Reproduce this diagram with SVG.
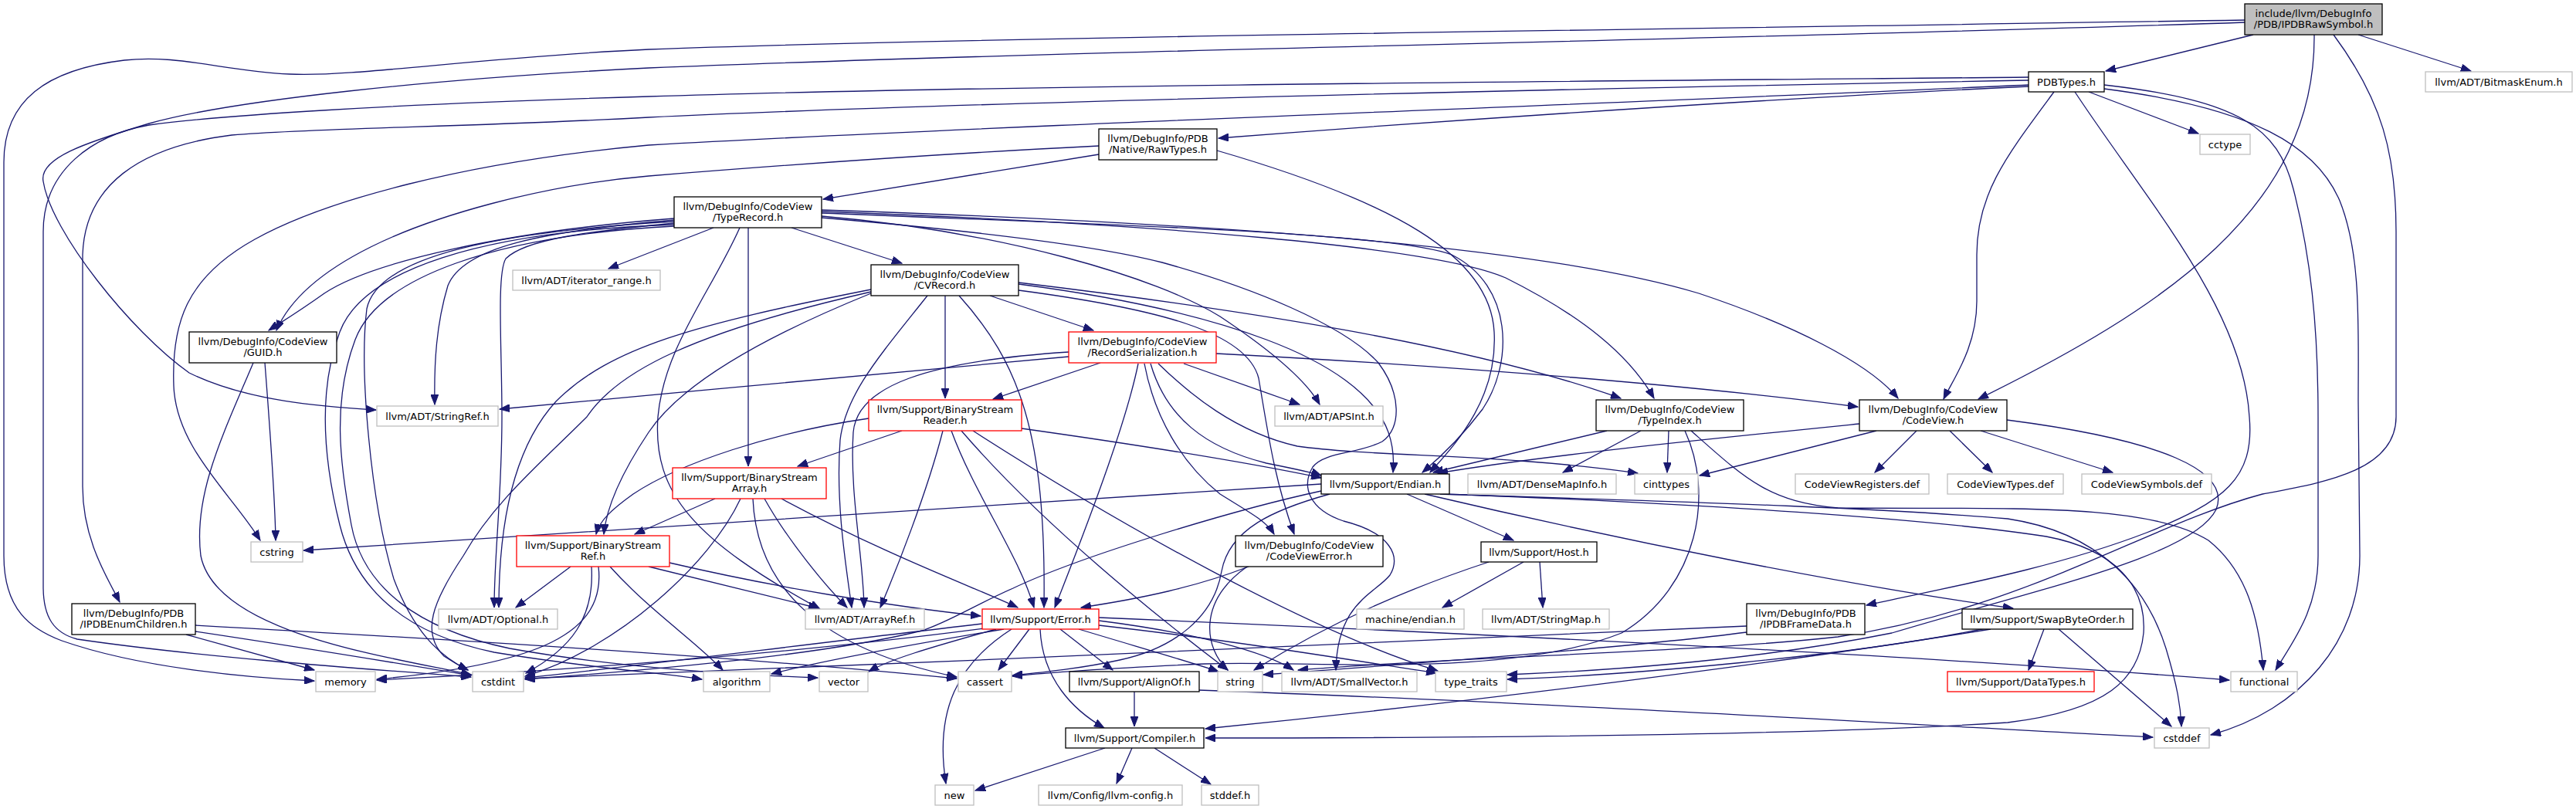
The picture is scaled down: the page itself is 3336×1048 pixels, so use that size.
<svg xmlns="http://www.w3.org/2000/svg" width="3336" height="1048" viewBox="0 0 3336 1048">
<style>
.n rect{fill:#fff;stroke:#000;stroke-width:1.3}
.g rect{stroke:#bfbfbf}
.r rect{stroke:#ff0000}
.root rect{fill:#bfbfbf}
text{font-family:"DejaVu Sans","Liberation Sans",sans-serif;font-size:13px;text-anchor:middle;fill:#000}
#edges path{fill:none;stroke:#191970;stroke-width:1.3;marker-end:url(#a)}
</style>
<defs>
<marker id="a" markerWidth="14" markerHeight="10" refX="13" refY="5" orient="auto" markerUnits="userSpaceOnUse"><path d="M0,0 L13,5 L0,10 z" fill="#191970" stroke="#191970" stroke-width="1"/></marker>
</defs>
<rect width="3336" height="1048" fill="#fff"/>
<g id="edges">
<path d="M2918,45 L2727,92"/>
<path d="M3054,45 L3200,92"/>
<path d="M2997,45 C2999,270 2800,400 2562,517"/>
<path d="M3022,45 C3085,130 3103,200 3103,300 L3103,540 C3103,610 3010,625 2930,640 C2780,680 2620,790 2380,825 C2200,845 1900,850 1681,868"/>
<path d="M2907,29 C2300,50 1400,65 840,88 C560,102 300,130 193,160 C110,185 50,205 56,235 C66,300 170,430 245,483 C320,520 420,527 487,531"/>
<path d="M2907,26 C2000,40 1200,50 840,64 C620,74 460,100 375,96 C290,92 230,70 161,78 C60,90 5,130 5,210 L5,720 C5,790 40,815 80,830 C180,865 320,878 407,882"/>
<path d="M2627,112 C2350,125 1950,150 1578,179"/>
<path d="M2660,119 C2600,200 2560,250 2560,330 L2560,390 C2560,450 2530,490 2517,517"/>
<path d="M2627,104 C2200,112 1300,130 840,152 C600,165 420,165 300,175 C180,190 110,240 107,330 L107,630 C107,700 140,750 155,780"/>
<path d="M2627,110 C2200,130 1300,162 840,188 C600,210 420,260 330,310 C240,360 222,420 225,500 C228,580 300,640 337,700"/>
<path d="M2627,100 C2200,104 1300,110 840,125 C500,135 280,150 193,162 C120,175 56,220 56,300 L56,760 C56,800 70,820 100,828 C250,850 450,865 610,877"/>
<path d="M2687,119 C2780,260 2905,400 2913,540 C2920,620 2880,650 2780,690 C2650,740 2500,765 2417,784"/>
<path d="M2705,119 L2847,173"/>
<path d="M2725,110 C2900,130 2950,165 2970,245 C2992,330 3002,420 3002,540 L3002,720 C3002,790 2970,830 2947,868"/>
<path d="M2725,115 C2920,140 3000,190 3030,260 C3058,330 3054,420 3054,520 L3056,720 C3056,830 2980,920 2863,952"/>
<path d="M1423,200 L1066,258"/>
<path d="M1423,189 C1200,200 1000,215 840,228 C700,240 560,280 480,320 C400,360 370,400 358,428"/>
<path d="M1576,195 C1800,260 1930,330 1935,430 C1940,520 1880,580 1852,612"/>
<path d="M1025,295 L1168,341"/>
<path d="M924,295 L788,348"/>
<path d="M873,283 C650,300 480,340 420,380 C385,405 360,420 348,428"/>
<path d="M873,285 C700,300 600,320 580,370 C565,420 562,470 563,524"/>
<path d="M873,287 C650,300 490,330 475,400 C465,480 480,650 510,750 C540,830 580,855 606,868"/>
<path d="M873,289 C760,300 680,310 655,335 C643,355 650,450 650,540 C650,640 640,720 640,787"/>
<path d="M873,291 C620,300 470,350 440,430 C410,510 420,600 440,680 C460,760 520,820 640,845 C760,865 860,872 909,880"/>
<path d="M873,293 C640,305 490,360 460,440 C430,520 440,600 455,680 C470,760 540,815 660,840 C800,865 950,874 1059,878"/>
<path d="M958,295 C920,380 860,450 852,540 C845,640 900,700 1062,789"/>
<path d="M1064,282 C1250,298 1420,318 1505,340 C1620,372 1740,420 1785,470 C1815,510 1815,555 1790,572 C1760,588 1715,585 1700,605 C1685,630 1695,660 1740,675 C1800,690 1815,720 1800,745 C1780,770 1732,780 1730,868"/>
<path d="M1064,280 C1300,300 1500,360 1580,410 C1640,450 1690,490 1709,524"/>
<path d="M969,295 L969,604"/>
<path d="M1064,276 C1400,290 1800,300 1880,330 C1960,370 1960,470 1920,530 C1890,570 1862,595 1842,612"/>
<path d="M1064,274 C1500,290 1860,320 1950,360 C2050,410 2110,460 2142,516"/>
<path d="M1064,272 C1600,290 2000,320 2200,380 C2320,420 2420,470 2458,516"/>
<path d="M1282,383 L1416,428"/>
<path d="M1224,383 L1224,516"/>
<path d="M1201,383 C1140,460 1095,510 1088,570 C1082,650 1095,730 1103,787"/>
<path d="M1128,375 C900,420 790,450 720,520 C665,580 646,680 646,787"/>
<path d="M1319,366 C1600,400 1900,445 2099,516"/>
<path d="M1319,368 C1450,385 1560,410 1640,440 C1720,470 1780,510 1798,560 C1805,580 1805,600 1804,612"/>
<path d="M1319,376 C1500,400 1615,430 1630,490 C1642,560 1650,620 1676,692"/>
<path d="M1242,383 C1320,470 1355,560 1352,787"/>
<path d="M1128,380 C980,440 880,500 840,560 C800,620 785,660 782,692"/>
<path d="M1128,378 C900,430 800,480 760,540 C700,600 640,650 600,720 C560,780 545,820 575,850 C590,860 600,865 606,868"/>
<path d="M1425,470 L1286,517"/>
<path d="M1384,462 C1100,490 900,505 647,530"/>
<path d="M1384,456 C1200,468 1110,500 1105,560 C1100,640 1118,720 1119,787"/>
<path d="M1533,471 L1683,524"/>
<path d="M1575,458 C1900,475 2200,500 2406,527"/>
<path d="M1482,471 C1495,540 1530,600 1580,640 C1620,665 1640,675 1650,692"/>
<path d="M1490,471 C1510,540 1560,580 1640,600 C1680,608 1700,612 1711,616"/>
<path d="M1474,471 C1460,540 1420,650 1366,787"/>
<path d="M1500,471 C1540,510 1600,560 1680,578 C1780,592 1950,588 2121,613"/>
<path d="M1168,558 L1033,604"/>
<path d="M1125,542 C1000,560 880,600 820,640 C792,660 776,675 772,692"/>
<path d="M1221,558 C1200,640 1160,740 1140,787"/>
<path d="M1232,558 C1262,640 1320,720 1339,787"/>
<path d="M1245,558 C1350,680 1500,800 1590,868"/>
<path d="M1260,558 C1450,680 1700,820 1862,869"/>
<path d="M1323,555 C1500,580 1620,600 1711,619"/>
<path d="M926,646 L822,692"/>
<path d="M959,646 C920,730 800,840 680,876"/>
<path d="M975,646 C980,760 1060,840 1239,877"/>
<path d="M990,646 C1020,700 1070,760 1097,787"/>
<path d="M1012,646 C1150,720 1260,760 1318,787"/>
<path d="M840,734 L1060,788"/>
<path d="M739,734 L668,787"/>
<path d="M867,729 C1000,760 1150,785 1270,798"/>
<path d="M790,734 C840,790 900,830 936,868"/>
<path d="M766,734 C770,800 740,840 681,872"/>
<path d="M775,734 C785,820 700,860 488,880"/>
<path d="M343,470 C350,560 356,640 357,700"/>
<path d="M328,470 C290,560 250,640 260,720 C280,820 500,850 610,874"/>
<path d="M2125,558 L2024,612"/>
<path d="M2081,558 L1856,612"/>
<path d="M2161,558 L2159,612"/>
<path d="M2190,558 C2260,620 2290,650 2380,658 C2600,660 2780,650 2860,700 C2910,740 2925,800 2931,868"/>
<path d="M2182,558 C2220,640 2200,760 2100,820 C1950,880 1700,855 1560,860 C1450,865 1370,870 1311,876"/>
<path d="M2430,558 L2201,616"/>
<path d="M2482,558 L2428,612"/>
<path d="M2525,558 L2580,612"/>
<path d="M2565,558 L2736,612"/>
<path d="M2408,549 C2200,570 2000,590 1862,613"/>
<path d="M2599,544 C2800,570 2890,610 2870,660 C2840,720 2650,760 2450,820 C2250,860 2050,870 1952,874"/>
<path d="M1711,627 C1300,650 800,690 393,713"/>
<path d="M1822,640 L1960,700"/>
<path d="M1845,640 C2100,700 2400,760 2607,788"/>
<path d="M1865,640 C2100,648 2400,655 2600,672 C2720,690 2780,760 2805,840 C2820,890 2824,915 2825,941"/>
<path d="M1870,640 C2200,652 2500,672 2650,695 C2740,712 2780,760 2776,820 C2770,880 2730,920 2600,936 C2300,955 1800,956 1561,956"/>
<path d="M1711,636 C1600,660 1400,720 1312,762 C1260,785 1230,805 1194,817 C1100,840 950,860 680,880"/>
<path d="M1722,640 C1650,660 1592,685 1582,740 C1572,800 1520,840 1450,855 C1400,866 1350,871 1311,875"/>
<path d="M1973,728 L1868,787"/>
<path d="M1994,728 L1998,787"/>
<path d="M1928,728 C1800,770 1700,820 1624,868"/>
<path d="M1617,734 C1550,760 1480,775 1400,787"/>
<path d="M1615,734 C1550,780 1560,840 1590,868"/>
<path d="M241,822 L407,868"/>
<path d="M253,818 C400,840 520,860 610,875"/>
<path d="M253,810 C700,835 1000,855 1239,879"/>
<path d="M2262,811 C1800,830 1200,860 680,879"/>
<path d="M2262,819 C2100,840 1800,862 1636,874"/>
<path d="M1423,804 C1550,820 1640,845 1675,868"/>
<path d="M1373,815 L1441,868"/>
<path d="M1347,815 C1350,880 1390,920 1430,943"/>
<path d="M1300,815 C1150,840 1050,860 999,873"/>
<path d="M1333,815 L1293,868"/>
<path d="M1272,808 C1000,840 800,866 680,878"/>
<path d="M1423,800 C1900,820 2500,850 2887,881"/>
<path d="M1275,814 C1000,850 700,870 488,881"/>
<path d="M1310,815 C1240,860 1210,920 1225,1015"/>
<path d="M1397,815 C1480,840 1550,860 1578,870"/>
<path d="M1423,810 C1600,830 1750,855 1860,872"/>
<path d="M1290,815 C1200,840 1150,855 1125,870"/>
<path d="M1469,896 L1469,941"/>
<path d="M1553,894 C2000,910 2500,940 2788,955"/>
<path d="M2647,815 L2627,868"/>
<path d="M2666,815 L2812,941"/>
<path d="M2578,815 C2300,860 1900,910 1561,944"/>
<path d="M2576,813 C2400,850 2100,875 1952,880"/>
<path d="M1431,969 L1263,1024"/>
<path d="M1466,969 L1446,1015"/>
<path d="M1495,969 L1568,1016"/>
</g>
<g id="nodes">
<g id="root" class="n root"><rect x="2907" y="5" width="178" height="40"/><text x="2996" y="22">include/llvm/DebugInfo</text><text x="2996" y="36">/PDB/IPDBRawSymbol.h</text></g>
<g id="PDBTypes" class="n"><rect x="2627" y="93" width="98" height="26"/><text x="2676" y="111">PDBTypes.h</text></g>
<g id="BitmaskEnum" class="n g"><rect x="3141" y="93" width="190" height="26"/><text x="3236" y="111">llvm/ADT/BitmaskEnum.h</text></g>
<g id="RawTypes" class="n"><rect x="1423" y="167" width="153" height="40"/><text x="1499.5" y="184">llvm/DebugInfo/PDB</text><text x="1499.5" y="198">/Native/RawTypes.h</text></g>
<g id="cctype" class="n g"><rect x="2849" y="174" width="65" height="26"/><text x="2881.5" y="192">cctype</text></g>
<g id="TypeRecord" class="n"><rect x="873" y="255" width="191" height="40"/><text x="968.5" y="272">llvm/DebugInfo/CodeView</text><text x="968.5" y="286">/TypeRecord.h</text></g>
<g id="iterator_range" class="n g"><rect x="664" y="350" width="191" height="26"/><text x="759.5" y="368">llvm/ADT/iterator_range.h</text></g>
<g id="CVRecord" class="n"><rect x="1128" y="343" width="191" height="40"/><text x="1223.5" y="360">llvm/DebugInfo/CodeView</text><text x="1223.5" y="374">/CVRecord.h</text></g>
<g id="GUID" class="n"><rect x="245" y="430" width="191" height="40"/><text x="340.5" y="447">llvm/DebugInfo/CodeView</text><text x="340.5" y="461">/GUID.h</text></g>
<g id="RecordSerialization" class="n r"><rect x="1384" y="430" width="191" height="40"/><text x="1479.5" y="447">llvm/DebugInfo/CodeView</text><text x="1479.5" y="461">/RecordSerialization.h</text></g>
<g id="BinaryStreamReader" class="n r"><rect x="1125" y="518" width="198" height="40"/><text x="1224" y="535">llvm/Support/BinaryStream</text><text x="1224" y="549">Reader.h</text></g>
<g id="TypeIndex" class="n"><rect x="2067" y="518" width="191" height="40"/><text x="2162.5" y="535">llvm/DebugInfo/CodeView</text><text x="2162.5" y="549">/TypeIndex.h</text></g>
<g id="CodeView" class="n"><rect x="2408" y="518" width="191" height="40"/><text x="2503.5" y="535">llvm/DebugInfo/CodeView</text><text x="2503.5" y="549">/CodeView.h</text></g>
<g id="StringRef" class="n g"><rect x="488" y="526" width="157" height="26"/><text x="566.5" y="544">llvm/ADT/StringRef.h</text></g>
<g id="APSInt" class="n g"><rect x="1651" y="526" width="140" height="26"/><text x="1721" y="544">llvm/ADT/APSInt.h</text></g>
<g id="BinaryStreamArray" class="n r"><rect x="871" y="606" width="199" height="40"/><text x="970.5" y="623">llvm/Support/BinaryStream</text><text x="970.5" y="637">Array.h</text></g>
<g id="Endian" class="n"><rect x="1711" y="614" width="166" height="26"/><text x="1794" y="632">llvm/Support/Endian.h</text></g>
<g id="DenseMapInfo" class="n g"><rect x="1901" y="614" width="192" height="26"/><text x="1997" y="632">llvm/ADT/DenseMapInfo.h</text></g>
<g id="cinttypes" class="n g"><rect x="2117" y="614" width="82" height="26"/><text x="2158" y="632">cinttypes</text></g>
<g id="CodeViewRegisters" class="n g"><rect x="2325" y="614" width="173" height="26"/><text x="2411.5" y="632">CodeViewRegisters.def</text></g>
<g id="CodeViewTypes" class="n g"><rect x="2522" y="614" width="150" height="26"/><text x="2597" y="632">CodeViewTypes.def</text></g>
<g id="CodeViewSymbols" class="n g"><rect x="2696" y="614" width="168" height="26"/><text x="2780" y="632">CodeViewSymbols.def</text></g>
<g id="BinaryStreamRef" class="n r"><rect x="669" y="694" width="198" height="40"/><text x="768" y="711">llvm/Support/BinaryStream</text><text x="768" y="725">Ref.h</text></g>
<g id="CodeViewError" class="n"><rect x="1600" y="694" width="191" height="40"/><text x="1695.5" y="711">llvm/DebugInfo/CodeView</text><text x="1695.5" y="725">/CodeViewError.h</text></g>
<g id="cstring" class="n g"><rect x="325" y="702" width="67" height="26"/><text x="358.5" y="720">cstring</text></g>
<g id="Host" class="n"><rect x="1918" y="702" width="150" height="26"/><text x="1993" y="720">llvm/Support/Host.h</text></g>
<g id="IPDBEnumChildren" class="n"><rect x="93" y="782" width="160" height="40"/><text x="173" y="799">llvm/DebugInfo/PDB</text><text x="173" y="813">/IPDBEnumChildren.h</text></g>
<g id="IPDBFrameData" class="n"><rect x="2262" y="782" width="153" height="40"/><text x="2338.5" y="799">llvm/DebugInfo/PDB</text><text x="2338.5" y="813">/IPDBFrameData.h</text></g>
<g id="Optional" class="n g"><rect x="568" y="789" width="154" height="26"/><text x="645" y="807">llvm/ADT/Optional.h</text></g>
<g id="ArrayRef" class="n g"><rect x="1043" y="789" width="154" height="26"/><text x="1120" y="807">llvm/ADT/ArrayRef.h</text></g>
<g id="Error" class="n r"><rect x="1272" y="789" width="151" height="26"/><text x="1347.5" y="807">llvm/Support/Error.h</text></g>
<g id="machine_endian" class="n g"><rect x="1757" y="789" width="139" height="26"/><text x="1826.5" y="807">machine/endian.h</text></g>
<g id="StringMap" class="n g"><rect x="1920" y="789" width="164" height="26"/><text x="2002" y="807">llvm/ADT/StringMap.h</text></g>
<g id="SwapByteOrder" class="n"><rect x="2541" y="789" width="221" height="26"/><text x="2651.5" y="807">llvm/Support/SwapByteOrder.h</text></g>
<g id="memory" class="n g"><rect x="409" y="870" width="77" height="26"/><text x="447.5" y="888">memory</text></g>
<g id="cstdint" class="n g"><rect x="612" y="870" width="66" height="26"/><text x="645" y="888">cstdint</text></g>
<g id="algorithm" class="n g"><rect x="911" y="870" width="86" height="26"/><text x="954" y="888">algorithm</text></g>
<g id="vector" class="n g"><rect x="1061" y="870" width="63" height="26"/><text x="1092.5" y="888">vector</text></g>
<g id="cassert" class="n g"><rect x="1241" y="870" width="69" height="26"/><text x="1275.5" y="888">cassert</text></g>
<g id="AlignOf" class="n"><rect x="1385" y="870" width="168" height="26"/><text x="1469" y="888">llvm/Support/AlignOf.h</text></g>
<g id="string" class="n g"><rect x="1577" y="870" width="58" height="26"/><text x="1606" y="888">string</text></g>
<g id="SmallVector" class="n g"><rect x="1660" y="870" width="175" height="26"/><text x="1747.5" y="888">llvm/ADT/SmallVector.h</text></g>
<g id="type_traits" class="n g"><rect x="1859" y="870" width="92" height="26"/><text x="1905" y="888">type_traits</text></g>
<g id="DataTypes" class="n r"><rect x="2522" y="870" width="190" height="26"/><text x="2617" y="888">llvm/Support/DataTypes.h</text></g>
<g id="functional" class="n g"><rect x="2889" y="870" width="86" height="26"/><text x="2932" y="888">functional</text></g>
<g id="Compiler" class="n"><rect x="1380" y="943" width="179" height="26"/><text x="1469.5" y="961">llvm/Support/Compiler.h</text></g>
<g id="cstddef" class="n g"><rect x="2790" y="943" width="71" height="26"/><text x="2825.5" y="961">cstddef</text></g>
<g id="new" class="n g"><rect x="1211" y="1017" width="50" height="26"/><text x="1236" y="1035">new</text></g>
<g id="llvm_config" class="n g"><rect x="1345" y="1017" width="186" height="26"/><text x="1438" y="1035">llvm/Config/llvm-config.h</text></g>
<g id="stddef" class="n g"><rect x="1556" y="1017" width="74" height="26"/><text x="1593" y="1035">stddef.h</text></g>
</g>
</svg>
